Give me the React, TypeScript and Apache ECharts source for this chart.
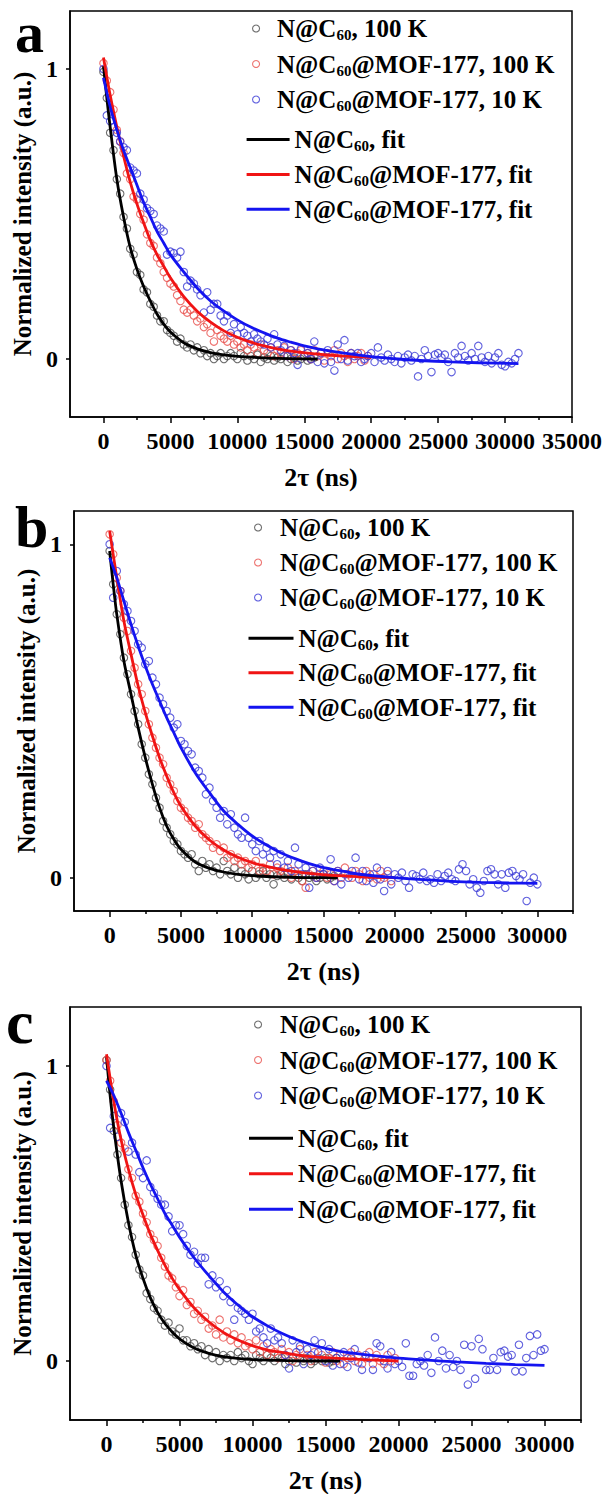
import React, { useEffect, useRef } from "react";
import * as echarts from "echarts";

// sampling step of the echo decay data (ns)
const STEP = 250;

// ---------- panel a ----------
const A_BK = [0.99,0.90,0.78,0.72,0.62,0.57,0.49,0.45,0.38,0.36,0.30,0.29,0.24,0.23,0.19,0.18,0.15,0.13,0.13,0.10,0.09,0.08,0.06,0.07,0.05,0.04,0.05,0.03,0.04,0.02,0.03,0.01,0.02,0.00,0.01,0.02,0.00,0.01,0.02,0.01,0.00,0.02,0.01,-0.005,0.01,0.00,0.015,-0.01,0.005,0.00,0.01,-0.005,0.005,0.00,0.01,-0.01,0.00,0.005,-0.005,0.00,0.01,-0.005,0.00,0.005];
const A_RD = [1.02,0.96,0.92,0.86,0.79,0.75,0.71,0.64,0.62,0.56,0.55,0.50,0.48,0.43,0.40,0.39,0.35,0.33,0.30,0.28,0.26,0.25,0.22,0.20,0.17,0.16,0.17,0.15,0.13,0.14,0.11,0.12,0.09,0.06,0.10,0.08,0.07,0.06,0.08,0.05,0.06,0.04,0.05,0.03,0.05,0.04,0.02,0.05,0.03,0.02,0.04,0.01,0.03,0.02,0.04,0.01,0.03,0.00,0.02,0.03,0.01,0.02,0.00,0.03,0.01,0.02,-0.005,0.02,0.01,0.03,0.00,0.02,0.01,-0.01,0.02,0.00,0.01,0.02,-0.005,0.01];
const A_BL = [1.00,0.84,0.82,0.80,0.78,0.75,0.73,0.72,0.66,0.65,0.64,0.57,0.55,0.52,0.51,0.50,0.46,0.45,0.44,0.36,0.37,0.365,0.35,0.37,0.30,0.25,0.27,0.26,0.24,0.22,0.16,0.23,0.17,0.19,0.19,0.15,0.13,0.15,0.09,0.12,0.085,0.11,0.09,0.08,0.06,0.085,0.07,0.06,0.05,0.07,0.04,0.085,0.05,0.03,0.045,0.01,0.03,0.02,-0.02,0.035,0.01,0.02,0.00,0.06,-0.01,0.02,-0.015,0.03,-0.01,-0.04,0.05,0.00,0.065,-0.005,0.02,0.01,0.02,-0.01,0.00,0.01,0.02,-0.01,0.04,0.005,-0.005,0.015,0.00,-0.01,0.01,-0.015,0.005,0.015,-0.005,0.01,-0.06,0.00,0.03,0.01,-0.045,0.015,0.02,0.005,0.015,-0.01,-0.045,0.02,0.005,0.045,0.01,-0.005,0.02,0.00,0.045,0.005,-0.01,0.01,-0.015,0.005,0.02,-0.02,-0.025,-0.01,-0.015,0.00,0.02];
const A_FIT_BK_X = [0,250,500,1000,1500,2000,2500,3000,3500,4000,4500,5000,6000,7000,8000,9000,10000,12000,14000,16000];
const A_FIT_BK_Y = [1.01,0.9,0.8,0.62,0.49,0.385,0.31,0.25,0.2,0.155,0.12,0.093,0.056,0.035,0.022,0.014,0.009,0.004,0.001,0];
const A_FIT_RD_X = [0,500,1000,1500,2000,2500,3000,3500,4000,4500,5000,6000,7000,8000,9000,10000,11000,12000,13000,14000,16000,18000,20000];
const A_FIT_RD_Y = [1.04,0.91,0.8,0.7,0.61,0.535,0.47,0.41,0.36,0.32,0.28,0.215,0.165,0.127,0.097,0.075,0.058,0.045,0.035,0.027,0.017,0.01,0.006];
const A_FIT_BL_X = [0,500,1000,1500,2000,2500,3000,3500,4000,4500,5000,6000,7000,8000,9000,10000,11000,12000,13000,14000,15000,16000,18000,20000,22000,24000,26000,28000,31000];
const A_FIT_BL_Y = [0.97,0.87,0.79,0.72,0.66,0.6,0.54,0.49,0.44,0.4,0.36,0.3,0.245,0.2,0.165,0.135,0.11,0.09,0.072,0.058,0.045,0.035,0.02,0.008,0,-0.006,-0.01,-0.013,-0.016];

// ---------- panel b ----------
const B_BK = [0.98,0.88,0.79,0.73,0.66,0.61,0.55,0.50,0.46,0.40,0.36,0.31,0.28,0.24,0.21,0.17,0.15,0.13,0.11,0.10,0.08,0.07,0.06,0.07,0.04,0.02,0.05,0.03,0.04,0.02,0.03,0.01,0.05,0.02,0.01,0.03,0.00,0.02,0.01,-0.005,0.02,0.00,0.01,0.02,0.00,0.01,-0.02,0.005,0.01,0.00,0.015,-0.005,0.01,0.00,-0.01,0.01,0.00,0.005,-0.01,0.00,0.01,-0.005,0.00,0.005];
const B_RD = [1.03,0.97,0.90,0.86,0.78,0.74,0.68,0.63,0.58,0.55,0.50,0.46,0.42,0.39,0.36,0.34,0.30,0.28,0.26,0.23,0.21,0.20,0.18,0.17,0.15,0.16,0.13,0.12,0.11,0.09,0.10,0.08,0.09,0.06,0.07,0.05,0.06,0.04,0.05,0.03,0.04,0.05,0.02,0.03,0.02,0.04,0.01,0.03,0.02,0.01,0.03,0.00,0.02,0.01,-0.01,-0.03,0.01,0.02,0.00,0.01,0.02,0.00,0.01,-0.01,0.02,0.00,0.03,0.01,0.00,0.02,0.01,-0.01,0.02,0.00,0.01,-0.005,0.02,0.00,0.01,-0.01];
const B_BL = [1.00,0.84,0.92,0.86,0.82,0.80,0.77,0.74,0.70,0.69,0.64,0.65,0.60,0.58,0.54,0.52,0.50,0.48,0.45,0.46,0.41,0.40,0.38,0.37,0.33,0.32,0.30,0.25,0.27,0.23,0.21,0.18,0.20,0.16,0.19,0.15,0.13,0.12,0.18,0.12,0.10,0.08,0.11,0.07,0.09,0.06,0.08,0.04,0.07,0.03,0.05,0.02,0.09,0.04,0.01,0.03,-0.03,0.02,0.00,0.03,0.01,0.02,0.055,-0.01,0.02,-0.02,0.01,0.00,0.02,0.06,-0.005,0.02,-0.01,0.01,-0.015,0.03,-0.005,-0.04,0.02,-0.02,0.01,0.00,0.015,-0.01,-0.03,0.01,0.005,-0.005,0.015,-0.01,-0.005,-0.015,0.01,-0.01,0.005,0.015,-0.005,-0.01,0.025,0.04,0.02,-0.02,-0.005,-0.03,-0.045,-0.01,0.02,0.025,0.01,-0.02,0.01,-0.03,0.015,0.02,0.005,-0.005,0.01,-0.07,-0.015,0.00,-0.02];
const B_FIT_BK_X = [0,250,500,1000,1500,2000,2500,3000,3500,4000,4500,5000,6000,7000,8000,9000,10000,12000,14000,16000];
const B_FIT_BK_Y = [0.98,0.88,0.79,0.65,0.55,0.45,0.36,0.28,0.21,0.155,0.115,0.085,0.047,0.028,0.017,0.01,0.006,0.002,0,0];
const B_FIT_RD_X = [0,500,1000,1500,2000,2500,3000,3500,4000,4500,5000,6000,7000,8000,9000,10000,11000,12000,13000,14000,16000,18000,20000];
const B_FIT_RD_Y = [1.04,0.9,0.77,0.67,0.575,0.495,0.425,0.36,0.305,0.255,0.215,0.155,0.113,0.083,0.061,0.045,0.034,0.025,0.018,0.013,0.006,0.002,0];
const B_FIT_BL_X = [0,500,1000,1500,2000,2500,3000,3500,4000,4500,5000,6000,7000,8000,9000,10000,11000,12000,13000,14000,15000,16000,17000,18000,20000,22000,24000,26000,28000,30000];
const B_FIT_BL_Y = [0.96,0.9,0.83,0.76,0.695,0.635,0.58,0.53,0.48,0.435,0.39,0.315,0.255,0.2,0.16,0.125,0.098,0.075,0.057,0.042,0.03,0.022,0.014,0.008,0,-0.006,-0.011,-0.014,-0.016,-0.017];

// ---------- panel c ----------
const C_BK = [1.02,0.92,0.78,0.70,0.62,0.53,0.46,0.42,0.36,0.31,0.29,0.23,0.21,0.18,0.17,0.14,0.12,0.13,0.10,0.09,0.11,0.07,0.07,0.05,0.06,0.04,0.05,0.02,0.04,0.01,0.03,0.00,0.02,0.01,0.02,0.00,0.03,0.01,0.02,0.00,-0.01,0.02,0.01,0.00,0.02,0.01,0.00,0.02,0.01,-0.01,0.00,0.01,-0.005,0.01,0.00,0.01,-0.01,0.00,0.01,0.00,0.01,-0.005,0.00,0.01];
const C_RD = [1.02,0.95,0.88,0.80,0.74,0.72,0.65,0.62,0.56,0.54,0.50,0.47,0.43,0.41,0.39,0.35,0.32,0.29,0.28,0.25,0.22,0.24,0.19,0.20,0.16,0.17,0.14,0.15,0.11,0.12,0.09,0.14,0.08,0.10,0.07,0.09,0.06,0.08,0.05,0.06,0.04,0.07,0.03,0.05,0.02,0.04,0.03,0.01,0.04,0.02,0.03,0.00,0.02,0.04,0.01,0.02,0.00,0.03,0.01,0.02,-0.005,0.01,0.03,0.00,0.02,-0.01,0.01,0.03,0.00,0.02,-0.01,0.01,0.03,-0.01,0.02,0.00,-0.01,0.02,0.00,0.01];
const C_BL = [1.00,0.79,0.83,0.76,0.84,0.81,0.71,0.74,0.70,0.64,0.62,0.68,0.59,0.57,0.55,0.53,0.53,0.49,0.44,0.46,0.46,0.43,0.39,0.36,0.37,0.33,0.35,0.35,0.26,0.29,0.25,0.27,0.22,0.24,0.20,0.14,0.18,0.17,0.16,0.14,0.16,0.10,0.11,0.08,0.06,0.11,0.07,0.08,0.06,0.02,-0.025,0.07,0.03,0.05,-0.01,0.04,0.02,0.07,0.03,0.06,0.00,0.04,-0.015,0.01,-0.01,0.03,-0.02,0.01,0.04,-0.005,-0.03,0.02,0.01,-0.03,0.06,0.05,0.00,-0.025,0.03,-0.01,0.00,-0.02,0.06,-0.05,-0.05,-0.01,0.00,-0.015,0.02,-0.04,0.08,0.00,0.035,-0.025,0.02,-0.02,0.00,-0.03,0.055,-0.08,0.05,-0.06,0.075,0.04,-0.03,-0.03,0.01,-0.03,0.03,0.035,0.015,0.02,-0.035,0.055,-0.035,0.01,0.085,0.02,0.09,0.035,0.04];
const C_FIT_BK_X = [0,250,500,1000,1500,2000,2500,3000,3500,4000,4500,5000,6000,7000,8000,9000,10000,12000,14000,16000];
const C_FIT_BK_Y = [1.03,0.9,0.79,0.61,0.47,0.36,0.28,0.215,0.165,0.127,0.098,0.075,0.044,0.026,0.015,0.009,0.005,0.002,0,0];
const C_FIT_RD_X = [0,500,1000,1500,2000,2500,3000,3500,4000,4500,5000,6000,7000,8000,9000,10000,11000,12000,13000,14000,16000,18000,20000];
const C_FIT_RD_Y = [1.04,0.88,0.75,0.65,0.565,0.495,0.43,0.375,0.325,0.28,0.243,0.18,0.133,0.097,0.071,0.052,0.038,0.029,0.021,0.015,0.009,0.004,0];
const C_FIT_BL_X = [0,500,1000,1500,2000,2500,3000,3500,4000,4500,5000,6000,7000,8000,9000,10000,11000,12000,13000,14000,15000,16000,18000,20000,22000,24000,26000,28000,30000];
const C_FIT_BL_Y = [0.95,0.9,0.84,0.775,0.715,0.655,0.6,0.55,0.5,0.46,0.42,0.35,0.29,0.235,0.19,0.15,0.12,0.094,0.073,0.056,0.043,0.033,0.02,0.01,0.003,-0.003,-0.008,-0.012,-0.015];

// ---------- ticks ----------
const X_TICKS_A = [0, 5000, 10000, 15000, 20000, 25000, 30000, 35000];
const X_MINOR_A = [2500, 7500, 12500, 17500, 22500, 27500, 32500];
const X_TICKS_BC = [0, 5000, 10000, 15000, 20000, 25000, 30000];
const X_MINOR_BC = [2500, 7500, 12500, 17500, 22500, 27500, 32500];
const Y_TICKS = [0, 1];

const LEGEND_TEXT: Record<string, string> = {
  bk: "{n|N@C}{s|60}{n|, 100 K}",
  rd: "{n|N@C}{s|60}{n|@MOF-177, 100 K}",
  bl: "{n|N@C}{s|60}{n|@MOF-177, 10 K}",
  bkfit: "{n|N@C}{s|60}{n|, fit}",
  rdfit: "{n|N@C}{s|60}{n|@MOF-177, fit}",
  blfit: "{n|N@C}{s|60}{n|@MOF-177, fit}",
};

const FONT = "'Liberation Serif', 'Times New Roman', serif";
const C_BK_PT = "#4a4a4a";
const C_RD_PT = "#e8504c";
const C_BL_PT = "#3a3ad6";
const C_BK_LN = "#000000";
const C_RD_LN = "#f01414";
const C_BL_LN = "#1414f0";

const pts = (vals: number[]) => vals.map((v, i) => [i * STEP, v]);
const fit = (xs: number[], ys: number[]) => xs.map((x, i) => [x, ys[i]]);

const PANELS = [
  {
    label: "a", labelX: 15, labelY: 32, labelSize: 58,
    grid: { left: 70, top: 11, width: 502, height: 406 },
    xMax: 35000, yMin: -0.2, yMax: 1.2, ticks: X_TICKS_A, minor: X_MINOR_A,
    bk: A_BK, rd: A_RD, bl: A_BL,
    fits: [fit(A_FIT_BK_X, A_FIT_BK_Y), fit(A_FIT_RD_X, A_FIT_RD_Y), fit(A_FIT_BL_X, A_FIT_BL_Y)],
    sLeg: { left: 247, top: 11, itemWidth: 32, itemGap: 9 },
    lLeg: { left: 241.6, top: 122, itemWidth: 43, itemGap: 8.4 },
  },
  {
    label: "b", labelX: 15, labelY: 527, labelSize: 60,
    grid: { left: 74, top: 511, width: 499, height: 400 },
    xMax: 32500, yMin: -0.1, yMax: 1.1, ticks: X_TICKS_BC, minor: X_MINOR_BC,
    bk: B_BK, rd: B_RD, bl: B_BL,
    fits: [fit(B_FIT_BK_X, B_FIT_BK_Y), fit(B_FIT_RD_X, B_FIT_RD_Y), fit(B_FIT_BL_X, B_FIT_BL_Y)],
    sLeg: { left: 249, top: 510, itemWidth: 34, itemGap: 8.5 },
    lLeg: { left: 243.5, top: 620.7, itemWidth: 45, itemGap: 8 },
  },
  {
    label: "c", labelX: 6, labelY: 1022, labelSize: 62,
    grid: { left: 70, top: 1007, width: 511, height: 413 },
    xMax: 32500, yMin: -0.2, yMax: 1.2, ticks: X_TICKS_BC, minor: X_MINOR_BC,
    bk: C_BK, rd: C_RD, bl: C_BL,
    fits: [fit(C_FIT_BK_X, C_FIT_BK_Y), fit(C_FIT_RD_X, C_FIT_RD_Y), fit(C_FIT_BL_X, C_FIT_BL_Y)],
    sLeg: { left: 249, top: 1007, itemWidth: 34, itemGap: 9 },
    lLeg: { left: 244, top: 1120.7, itemWidth: 44, itemGap: 9 },
  },
];

const rich = {
  n: { fontFamily: FONT, fontWeight: "bold", fontSize: 25, lineHeight: 28, color: "#000" },
  s: { fontFamily: FONT, fontWeight: "bold", fontSize: 15, lineHeight: 10, verticalAlign: "bottom", color: "#000" },
};

function buildOption() {
  const grid: any[] = [];
  const xAxis: any[] = [];
  const yAxis: any[] = [];
  const series: any[] = [];
  const legend: any[] = [];
  const graphic: any[] = [];
  const axisLine = { show: true, onZero: false, lineStyle: { color: "#000", width: 1.5 } };
  const labelStyle = { fontFamily: FONT, fontWeight: "bold", fontSize: 24, color: "#000" };
  const nameStyle = { fontFamily: FONT, fontWeight: "bold", fontSize: 26, color: "#000" };

  PANELS.forEach((p, i) => {
    grid.push({ ...p.grid, show: true, borderColor: "#000", borderWidth: 1.5, containLabel: false });
    xAxis.push({
      type: "value", gridIndex: i, min: -2500, max: p.xMax,
      axisLine, splitLine: { show: false },
      axisTick: { show: true, customValues: p.ticks, length: 6, lineStyle: { color: "#000", width: 1.5 } },
      axisLabel: { customValues: p.ticks, margin: 12, formatter: (v: number) => String(v), ...labelStyle },
      name: "2τ (ns)", nameLocation: "middle", nameGap: 47, nameTextStyle: nameStyle,
    });
    xAxis.push({
      type: "value", gridIndex: i, min: -2500, max: p.xMax, position: "bottom",
      axisLine: { show: false, onZero: false }, splitLine: { show: false }, axisLabel: { show: false },
      axisTick: { show: true, customValues: p.minor, length: 3, lineStyle: { color: "#000", width: 1.5 } },
    });
    yAxis.push({
      type: "value", gridIndex: i, min: p.yMin, max: p.yMax,
      axisLine, splitLine: { show: false },
      axisTick: { show: true, customValues: Y_TICKS, length: 4, lineStyle: { color: "#000", width: 1.5 } },
      axisLabel: { customValues: Y_TICKS, margin: 12, formatter: (v: number) => String(v), ...labelStyle },
      name: "Normalized intensity (a.u.)", nameLocation: "middle", nameGap: 30,
      nameTextStyle: { ...nameStyle, fontSize: 25 },
    });
    const xi = i * 2;
    const sc = (name: string, data: number[], color: string) => ({
      type: "scatter", name, xAxisIndex: xi, yAxisIndex: i, data: pts(data),
      symbol: "circle", symbolSize: 7.5, silent: true,
      itemStyle: { color: "rgba(0,0,0,0)", borderColor: color, borderWidth: 1.1 },
    });
    series.push(sc("bk", p.bk, C_BK_PT), sc("rd", p.rd, C_RD_PT), sc("bl", p.bl, C_BL_PT));
    const ln = (name: string, data: number[][], color: string) => ({
      type: "line", name, xAxisIndex: xi, yAxisIndex: i, data,
      symbol: "none", showSymbol: false, smooth: 0.3, silent: true,
      lineStyle: { color, width: 2.8 }, itemStyle: { color },
    });
    series.push(ln("bkfit", p.fits[0], C_BK_LN), ln("rdfit", p.fits[1], C_RD_LN), ln("blfit", p.fits[2], C_BL_LN));

    const legBase = {
      orient: "vertical", selectedMode: false,
      formatter: (name: string) => LEGEND_TEXT[name],
      textStyle: { fontFamily: FONT, fontWeight: "bold", fontSize: 25, color: "#000", rich },
    };
    legend.push({ ...legBase, ...p.sLeg, itemHeight: 7, data: ["bk", "rd", "bl"], itemStyle: { borderWidth: 1.1 } });
    legend.push({
      ...legBase, ...p.lLeg, itemHeight: 3, icon: "rect",
      data: ["bkfit", "rdfit", "blfit"],
    });

    graphic.push({
      type: "text", x: p.labelX, y: p.labelY,
      style: { text: p.label, fontFamily: FONT, fontWeight: "bold", fontSize: p.labelSize, fill: "#000", align: "left", verticalAlign: "middle" },
    });
  });

  return { animation: false, backgroundColor: "#fff", grid, xAxis, yAxis, series, legend, graphic };
}

export default function App() {
  const ref = useRef<HTMLDivElement>(null);
  useEffect(() => {
    if (!ref.current) return;
    const chart = echarts.init(ref.current, undefined, { renderer: "svg" });
    chart.setOption(buildOption());
    return () => chart.dispose();
  }, []);
  return <div ref={ref} style={{ position: "absolute", left: 0, top: 0, width: 605, height: 1494 }} />;
}
